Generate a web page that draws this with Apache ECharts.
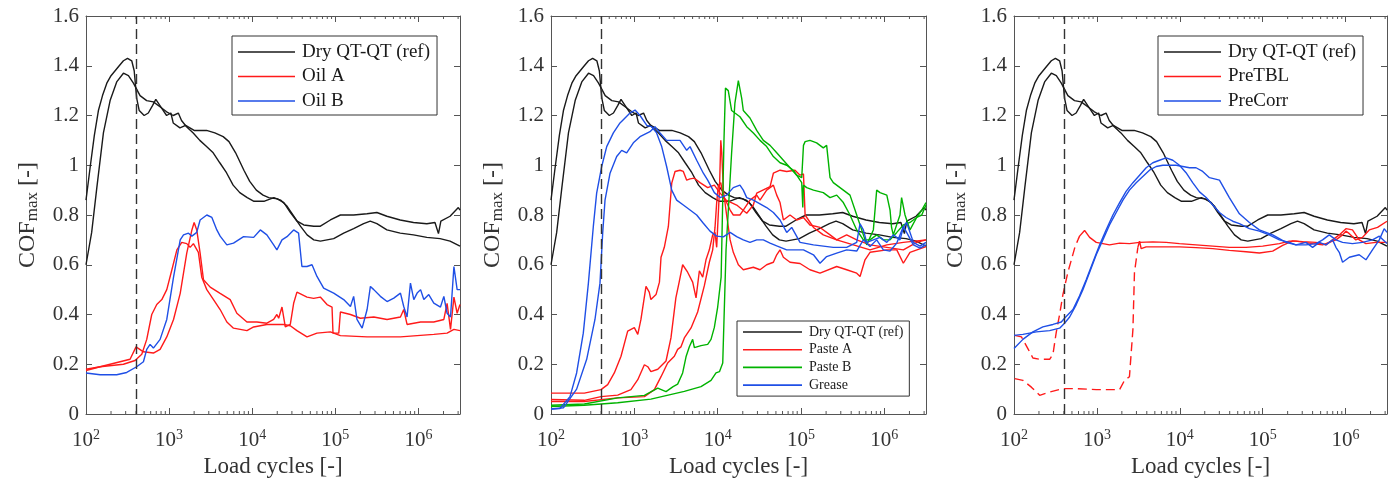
<!DOCTYPE html>
<html><head><meta charset="utf-8">
<script src="https://cdn.jsdelivr.net/npm/echarts@6/dist/echarts.min.js"></script>
<style>html,body{margin:0;padding:0;background:#fff}#c{width:1394px;height:487px}</style>
</head><body><div id="c"></div>
<script>
// ---------------- data (load cycles, COF_max) ----------------
const xTickExponents = [2, 3, 4, 5, 6];
const DASHED_AT = 400;

const dryRef1 = [[1.00e2,0.86],[1.12e2,0.99],[1.26e2,1.12],[1.41e2,1.22],[1.58e2,1.28],[1.78e2,1.33],[2.00e2,1.36],[2.24e2,1.38],[2.51e2,1.40],[2.82e2,1.42],[3.16e2,1.43],[3.55e2,1.42],[3.80e2,1.38],[4.07e2,1.27],[4.37e2,1.22],[5.01e2,1.20],[5.62e2,1.21],[6.31e2,1.24],[6.92e2,1.265],[7.94e2,1.235],[9.33e2,1.20],[1.05e3,1.21],[1.12e3,1.17],[1.35e3,1.15],[1.58e3,1.16],[2.00e3,1.14],[2.82e3,1.14],[3.55e3,1.13],[4.47e3,1.115],[5.25e3,1.095],[6.31e3,1.05],[7.94e3,0.98],[9.33e3,0.935],[1.12e4,0.90],[1.35e4,0.88],[1.58e4,0.87],[2.00e4,0.865],[2.40e4,0.85],[2.88e4,0.81],[3.47e4,0.775],[4.17e4,0.76],[5.50e4,0.755],[6.61e4,0.755],[8.71e4,0.78],[1.15e5,0.80],[1.66e5,0.80],[2.40e5,0.805],[3.16e5,0.81],[4.17e5,0.795],[6.03e5,0.78],[8.71e5,0.77],[1.26e6,0.765],[1.58e6,0.77],[1.74e6,0.725],[1.86e6,0.775],[2.40e6,0.795],[3.02e6,0.83],[3.16e6,0.82]];
const dryRef2 = [[1.00e2,0.60],[1.17e2,0.73],[1.35e2,0.91],[1.62e2,1.13],[1.95e2,1.26],[2.34e2,1.335],[2.82e2,1.37],[3.24e2,1.36],[3.72e2,1.33],[4.47e2,1.28],[5.37e2,1.26],[6.46e2,1.255],[7.76e2,1.235],[9.33e2,1.215],[1.12e3,1.20],[1.29e3,1.21],[1.41e3,1.18],[1.62e3,1.155],[1.95e3,1.13],[2.34e3,1.10],[2.82e3,1.075],[3.39e3,1.05],[4.07e3,1.01],[4.90e3,0.97],[5.89e3,0.92],[7.08e3,0.89],[8.71e3,0.87],[1.05e4,0.855],[1.38e4,0.855],[1.82e4,0.87],[2.19e4,0.86],[2.63e4,0.835],[3.16e4,0.795],[3.80e4,0.755],[4.57e4,0.72],[5.50e4,0.70],[6.61e4,0.695],[7.94e4,0.70],[9.55e4,0.705],[1.26e5,0.727],[1.66e5,0.745],[2.19e5,0.765],[2.63e5,0.775],[3.16e5,0.765],[4.17e5,0.74],[6.03e5,0.727],[8.71e5,0.72],[1.26e6,0.71],[1.82e6,0.705],[2.40e6,0.695],[3.16e6,0.675]];

const oilA1 = [[1.00e2,0.18],[1.48e2,0.19],[2.57e2,0.21],[3.39e2,0.22],[4.00e2,0.27],[4.91e2,0.25],[6.47e2,0.245],[7.79e2,0.26],[9.37e2,0.31],[1.13e3,0.38],[1.36e3,0.485],[1.63e3,0.647],[1.88e3,0.74],[2.00e3,0.77],[2.15e3,0.74],[2.36e3,0.647],[2.59e3,0.54],[3.12e3,0.51],[4.11e3,0.485],[5.43e3,0.46],[6.53e3,0.405],[8.63e3,0.37],[1.14e4,0.37],[1.50e4,0.365],[1.81e4,0.38],[1.98e4,0.40],[2.08e4,0.385],[2.28e4,0.43],[2.50e4,0.35],[2.87e4,0.36],[3.15e4,0.445],[3.45e4,0.49],[4.56e4,0.47],[5.48e4,0.465],[6.59e4,0.47],[7.94e4,0.44],[9.12e4,0.43],[9.37e4,0.325],[1.10e5,0.325],[1.15e5,0.41],[1.52e5,0.40],[2.00e5,0.385],[2.90e5,0.39],[4.19e5,0.38],[6.07e5,0.39],[6.65e5,0.42],[7.29e5,0.36],[1.06e6,0.37],[1.53e6,0.37],[2.02e6,0.38],[2.21e6,0.445],[2.43e6,0.34],[2.67e6,0.47],[2.92e6,0.405],[3.16e6,0.44]];
const oilA2 = [[1.00e2,0.175],[1.48e2,0.19],[2.82e2,0.20],[3.89e2,0.215],[4.69e2,0.24],[5.38e2,0.30],[6.18e2,0.40],[7.10e2,0.44],[8.17e2,0.46],[9.37e2,0.50],[1.08e3,0.58],[1.24e3,0.66],[1.42e3,0.69],[1.63e3,0.685],[1.79e3,0.67],[1.96e3,0.685],[2.25e3,0.65],[2.47e3,0.55],[2.84e3,0.50],[3.42e3,0.46],[4.11e3,0.42],[4.95e3,0.37],[5.95e3,0.345],[8.63e3,0.335],[1.04e4,0.35],[1.50e4,0.36],[2.39e4,0.36],[2.87e4,0.355],[3.45e4,0.335],[4.56e4,0.31],[6.01e4,0.325],[8.71e4,0.33],[1.15e5,0.315],[2.41e5,0.31],[6.07e5,0.31],[1.53e6,0.32],[2.21e6,0.325],[2.67e6,0.34],[3.16e6,0.335]];
const oilB1 = [[1.00e2,0.165],[1.48e2,0.158],[2.34e2,0.158],[3.09e2,0.167],[4.07e2,0.19],[4.91e2,0.21],[5.38e2,0.26],[5.90e2,0.28],[6.47e2,0.265],[7.79e2,0.30],[9.37e2,0.38],[1.13e3,0.55],[1.36e3,0.70],[1.49e3,0.72],[1.71e3,0.727],[1.88e3,0.715],[2.15e3,0.73],[2.36e3,0.78],[2.84e3,0.80],[3.27e3,0.79],[3.75e3,0.74],[4.11e3,0.715],[4.95e3,0.68],[5.95e3,0.687],[7.87e3,0.713],[1.04e4,0.71],[1.25e4,0.74],[1.50e4,0.72],[1.81e4,0.68],[1.98e4,0.66],[2.28e4,0.70],[2.62e4,0.713],[3.15e4,0.74],[3.61e4,0.727],[3.96e4,0.593],[4.56e4,0.593],[5.24e4,0.60],[6.01e4,0.553],[7.23e4,0.506],[9.55e4,0.486],[1.26e5,0.46],[1.52e5,0.432],[1.66e5,0.473],[1.82e5,0.38],[2.10e5,0.345],[2.41e5,0.42],[2.64e5,0.513],[2.90e5,0.50],[3.48e5,0.473],[4.19e5,0.452],[5.05e5,0.466],[6.07e5,0.486],[6.65e5,0.432],[7.29e5,0.39],[8.01e5,0.526],[8.79e5,0.46],[9.64e5,0.486],[1.06e6,0.50],[1.16e6,0.46],[1.33e6,0.48],[1.53e6,0.446],[1.84e6,0.43],[2.02e6,0.473],[2.21e6,0.405],[2.43e6,0.39],[2.67e6,0.593],[2.92e6,0.50],[3.16e6,0.50]];

const pasteA1 = [[1.00e2,0.084],[2.51e2,0.084],[3.98e2,0.098],[4.79e2,0.118],[5.75e2,0.165],[6.92e2,0.232],[8.32e2,0.333],[1.00e3,0.347],[1.10e3,0.32],[1.20e3,0.38],[1.38e3,0.513],[1.51e3,0.49],[1.58e3,0.46],[1.82e3,0.48],[2.00e3,0.53],[2.09e3,0.63],[2.29e3,0.67],[2.56e3,0.754],[2.81e3,0.928],[3.08e3,0.975],[3.53e3,0.98],[3.87e3,0.975],[4.25e3,0.94],[4.66e3,0.945],[5.25e3,0.948],[6.14e3,0.93],[7.59e3,0.91],[9.12e3,0.92],[1.07e4,0.888],[1.26e4,0.86],[1.69e4,0.84],[2.23e4,0.807],[2.68e4,0.84],[2.94e4,0.888],[4.25e4,0.914],[4.66e4,0.968],[5.60e4,0.98],[6.73e4,0.975],[8.47e4,0.98],[9.73e4,0.96],[1.07e5,0.965],[1.12e5,0.80],[1.41e5,0.75],[1.85e5,0.72],[2.68e5,0.70],[4.25e5,0.68],[6.73e5,0.66],[1.07e6,0.68],[1.69e6,0.69],[3.16e6,0.70]];
const pasteA2 = [[1.00e2,0.058],[2.51e2,0.055],[3.98e2,0.07],[6.31e2,0.076],[9.10e2,0.098],[1.10e3,0.138],[1.32e3,0.198],[1.45e3,0.19],[1.58e3,0.17],[1.91e3,0.18],[2.40e3,0.213],[2.75e3,0.306],[3.15e3,0.467],[3.45e3,0.53],[3.80e3,0.60],[4.36e3,0.57],[5.01e3,0.53],[5.50e3,0.467],[6.03e3,0.576],[6.61e3,0.55],[7.24e3,0.62],[7.94e3,0.66],[8.71e3,0.72],[9.29e3,0.73],[9.73e3,0.67],[1.05e4,0.90],[1.09e4,1.10],[1.12e4,1.05],[1.17e4,0.90],[1.28e4,0.80],[1.41e4,0.70],[1.54e4,0.65],[1.77e4,0.60],[2.03e4,0.58],[2.68e4,0.59],[3.22e4,0.58],[3.87e4,0.60],[4.66e4,0.61],[5.11e4,0.64],[5.60e4,0.66],[6.14e4,0.63],[7.38e4,0.61],[9.73e4,0.605],[1.28e5,0.58],[1.69e5,0.566],[2.68e5,0.593],[3.53e5,0.58],[4.66e5,0.566],[5.11e5,0.553],[5.86e5,0.62],[6.73e5,0.65],[1.07e6,0.66],[1.41e6,0.66],[1.69e6,0.606],[2.03e6,0.65],[3.16e6,0.673]];
const pasteA3 = [[1.00e2,0.05],[2.51e2,0.05],[6.31e2,0.065],[1.32e3,0.07],[1.74e3,0.098],[2.09e3,0.15],[2.51e3,0.205],[3.02e3,0.232],[3.31e3,0.26],[3.63e3,0.27],[3.98e3,0.306],[4.79e3,0.346],[5.75e3,0.41],[6.92e3,0.516],[7.94e3,0.61],[8.71e3,0.66],[9.29e3,0.75],[9.73e3,0.85],[1.02e4,0.92],[1.09e4,0.93],[1.17e4,0.87],[1.28e4,0.85],[1.41e4,0.82],[1.54e4,0.80],[1.85e4,0.80],[2.03e4,0.82],[2.44e4,0.86],[2.94e4,0.88],[3.22e4,0.86],[3.87e4,0.90],[4.66e4,0.92],[5.11e4,0.88],[5.60e4,0.85],[6.14e4,0.78],[7.38e4,0.80],[8.87e4,0.78],[1.07e5,0.79],[1.28e5,0.76],[1.69e5,0.75],[2.23e5,0.72],[2.68e5,0.70],[3.53e5,0.72],[4.66e5,0.70],[6.73e5,0.68],[1.07e6,0.67],[1.69e6,0.66],[2.44e6,0.69],[3.16e6,0.70]];
const pasteB1 = [[1.00e2,0.035],[2.51e2,0.04],[6.31e2,0.065],[1.32e3,0.075],[1.91e3,0.104],[2.40e3,0.09],[2.92e3,0.11],[3.31e3,0.12],[3.80e3,0.165],[4.17e3,0.23],[4.57e3,0.27],[5.01e3,0.30],[5.25e3,0.267],[6.31e3,0.275],[7.59e3,0.28],[8.32e3,0.30],[9.12e3,0.348],[1.00e4,0.43],[1.10e4,0.55],[1.14e4,0.80],[1.19e4,1.10],[1.24e4,1.31],[1.34e4,1.30],[1.47e4,1.22],[1.61e4,1.21],[1.85e4,1.195],[2.23e4,1.155],[2.68e4,1.13],[3.22e4,1.10],[3.87e4,1.075],[4.66e4,1.035],[5.60e4,1.01],[6.73e4,1.00],[8.09e4,0.98],[9.73e4,0.94],[1.02e5,0.93],[1.05e5,0.83],[1.07e5,0.92],[1.17e5,0.91],[1.41e5,0.90],[1.85e5,0.89],[2.23e5,0.87],[2.68e5,0.88],[3.22e5,0.85],[3.87e5,0.80],[4.66e5,0.74],[5.60e5,0.70],[6.73e5,0.70],[8.09e5,0.72],[9.73e5,0.70],[1.17e6,0.70],[1.41e6,0.73],[1.69e6,0.76],[2.03e6,0.77],[2.44e6,0.79],[2.81e6,0.82],[3.16e6,0.85]];
const pasteB2 = [[1.00e2,0.03],[2.51e2,0.035],[6.31e2,0.045],[1.58e3,0.06],[3.98e3,0.091],[6.31e3,0.11],[8.32e3,0.135],[9.55e3,0.165],[1.05e4,0.17],[1.15e4,0.205],[1.26e4,0.66],[1.47e4,1.05],[1.61e4,1.25],[1.77e4,1.34],[1.94e4,1.27],[2.03e4,1.22],[2.44e4,1.19],[2.94e4,1.14],[3.53e4,1.10],[4.25e4,1.08],[5.11e4,1.05],[6.14e4,1.02],[7.38e4,0.99],[8.87e4,0.96],[1.02e5,0.95],[1.07e5,1.08],[1.12e5,1.095],[1.28e5,1.10],[1.54e5,1.09],[1.85e5,1.07],[2.03e5,1.08],[2.23e5,0.95],[2.44e5,0.93],[3.22e5,0.90],[3.87e5,0.88],[4.66e5,0.80],[5.60e5,0.72],[6.14e5,0.68],[7.38e5,0.74],[8.09e5,0.90],[8.87e5,0.89],[1.07e6,0.88],[1.17e6,0.82],[1.22e6,0.75],[1.28e6,0.72],[1.54e6,0.80],[1.61e6,0.87],[1.77e6,0.80],[2.03e6,0.74],[2.44e6,0.79],[2.81e6,0.80],[3.16e6,0.84]];
const grease1 = [[1.00e2,0.02],[1.28e2,0.022],[1.69e2,0.07],[2.03e2,0.165],[2.44e2,0.325],[2.81e2,0.526],[3.22e2,0.754],[3.53e2,0.888],[4.06e2,0.995],[4.66e2,1.075],[5.60e2,1.13],[6.73e2,1.17],[7.73e2,1.19],[8.87e2,1.21],[1.02e3,1.222],[1.17e3,1.20],[1.41e3,1.16],[1.61e3,1.155],[1.85e3,1.13],[2.13e3,1.075],[2.44e3,0.995],[2.81e3,0.90],[3.22e3,0.86],[3.87e3,0.84],[4.66e3,0.82],[5.60e3,0.80],[6.73e3,0.767],[8.09e3,0.735],[9.73e3,0.715],[1.17e4,0.712],[1.41e4,0.73],[1.69e4,0.713],[2.03e4,0.70],[2.44e4,0.69],[2.94e4,0.70],[3.53e4,0.70],[4.25e4,0.687],[5.11e4,0.676],[6.73e4,0.66],[8.87e4,0.66],[1.07e5,0.66],[1.41e5,0.64],[1.69e5,0.606],[2.03e5,0.633],[2.68e5,0.647],[3.53e5,0.66],[4.66e5,0.655],[5.60e5,0.70],[6.73e5,0.673],[8.09e5,0.70],[9.73e5,0.66],[1.17e6,0.655],[1.41e6,0.687],[1.69e6,0.754],[1.85e6,0.73],[2.23e6,0.68],[2.68e6,0.667],[3.16e6,0.68]];
const grease2 = [[1.00e2,0.02],[1.41e2,0.025],[2.03e2,0.10],[2.68e2,0.22],[3.37e2,0.38],[3.87e2,0.526],[4.17e2,0.727],[4.45e2,0.86],[5.11e2,0.968],[6.14e2,1.035],[7.05e2,1.06],[8.09e2,1.05],[9.73e2,1.09],[1.17e3,1.115],[1.54e3,1.135],[1.77e3,1.155],[2.03e3,1.13],[2.44e3,1.10],[2.94e3,1.10],[3.53e3,1.10],[4.25e3,1.06],[4.66e3,1.075],[5.60e3,1.02],[6.73e3,0.968],[7.59e3,0.94],[9.12e3,0.89],[1.07e4,0.87],[1.28e4,0.88],[1.54e4,0.91],[1.85e4,0.92],[2.03e4,0.90],[2.23e4,0.87],[2.68e4,0.86],[3.22e4,0.845],[3.87e4,0.83],[4.66e4,0.81],[5.60e4,0.78],[6.73e4,0.73],[7.73e4,0.75],[9.73e4,0.69],[1.41e5,0.68],[2.44e5,0.67],[3.53e5,0.67],[4.66e5,0.69],[5.11e5,0.765],[5.60e5,0.74],[6.14e5,0.69],[7.38e5,0.70],[8.87e5,0.71],[1.07e6,0.69],[1.28e6,0.72],[1.54e6,0.70],[1.69e6,0.75],[1.85e6,0.77],[2.23e6,0.69],[2.68e6,0.675],[3.16e6,0.69]];

const preTBL1 = [[5.90e2,0.70],[6.18e2,0.715],[7.10e2,0.738],[8.17e2,0.71],[9.82e2,0.69],[1.18e3,0.685],[1.42e3,0.68],[1.88e3,0.687],[2.47e3,0.685],[3.27e3,0.69],[4.73e3,0.692],[6.84e3,0.69],[9.91e3,0.685],[1.57e4,0.68],[2.50e4,0.675],[3.96e4,0.67],[6.30e4,0.67],[1.00e5,0.675],[1.59e5,0.685],[2.10e5,0.695],[2.52e5,0.695],[4.00e5,0.685],[5.28e5,0.68],[6.35e5,0.69],[7.65e5,0.70],[9.20e5,0.72],[1.01e6,0.735],[1.11e6,0.725],[1.33e6,0.70],[1.60e6,0.71],[1.93e6,0.74],[2.43e6,0.75],[3.16e6,0.775]];
const preTBL1Start = [[1.02e2,0.316],[1.23e2,0.31],[1.47e2,0.263],[1.69e2,0.225],[2.04e2,0.22],[2.69e2,0.22],[2.95e2,0.24],[3.24e2,0.33],[3.55e2,0.40],[3.89e2,0.48],[4.47e2,0.57],[5.38e2,0.666],[5.90e2,0.70]];
const preTBL2 = [[3.12e3,0.67],[3.27e3,0.695],[3.42e3,0.665],[3.93e3,0.672],[5.69e3,0.672],[9.91e3,0.672],[1.57e4,0.669],[2.50e4,0.665],[3.96e4,0.658],[6.30e4,0.652],[9.12e4,0.647],[1.32e5,0.655],[1.74e5,0.678],[2.30e5,0.696],[3.03e5,0.693],[4.39e5,0.69],[5.79e5,0.68],[6.97e5,0.70],[8.39e5,0.72],[1.01e6,0.745],[1.21e6,0.74],[1.46e6,0.70],[1.76e6,0.685],[2.32e6,0.69],[3.16e6,0.69]];
const preTBL2Start = [[1.02e2,0.142],[1.28e2,0.135],[1.62e2,0.108],[2.04e2,0.075],[2.69e2,0.088],[3.89e2,0.102],[5.64e2,0.102],[9.82e2,0.098],[1.88e3,0.098],[2.15e3,0.135],[2.47e3,0.15],[2.72e3,0.34],[2.84e3,0.57],[2.98e3,0.62],[3.12e3,0.67]];
const preCorr1 = [[1.00e2,0.263],[1.28e2,0.30],[1.69e2,0.33],[2.23e2,0.35],[2.95e2,0.36],[3.72e2,0.37],[4.07e2,0.385],[5.14e2,0.42],[6.18e2,0.475],[7.43e2,0.54],[8.95e2,0.61],[1.08e3,0.68],[1.29e3,0.74],[1.56e3,0.80],[1.88e3,0.85],[2.25e3,0.895],[2.72e3,0.93],[3.27e3,0.96],[3.93e3,0.99],[4.73e3,1.01],[5.69e3,1.02],[6.84e3,1.03],[8.24e3,1.02],[9.91e3,1.0],[1.19e4,0.97],[1.43e4,0.93],[1.73e4,0.893],[2.08e4,0.87],[2.50e4,0.84],[3.01e4,0.81],[3.61e4,0.79],[4.35e4,0.775],[5.24e4,0.765],[6.91e4,0.745],[9.12e4,0.735],[1.20e5,0.72],[1.59e5,0.70],[2.10e5,0.69],[2.52e5,0.68],[3.33e5,0.69],[4.00e5,0.67],[4.82e5,0.69],[5.79e5,0.68],[6.97e5,0.70],[7.65e5,0.67],[8.39e5,0.65],[9.20e5,0.61],[1.11e6,0.63],[1.46e6,0.64],[1.76e6,0.62],[2.11e6,0.66],[2.55e6,0.70],[2.92e6,0.745],[3.16e6,0.73]];
const preCorr2 = [[1.00e2,0.316],[1.28e2,0.32],[1.86e2,0.33],[2.69e2,0.335],[3.55e2,0.345],[4.07e2,0.365],[4.69e2,0.39],[5.64e2,0.44],[6.78e2,0.50],[8.17e2,0.57],[9.82e2,0.64],[1.18e3,0.70],[1.42e3,0.76],[1.71e3,0.81],[2.06e3,0.86],[2.47e3,0.90],[2.98e3,0.93],[3.58e3,0.955],[4.31e3,0.98],[5.19e3,0.995],[6.24e3,1.0],[9.04e3,1.0],[1.31e4,0.99],[1.57e4,0.99],[1.89e4,0.975],[2.28e4,0.95],[3.01e4,0.94],[3.96e4,0.87],[5.24e4,0.805],[6.91e4,0.77],[9.12e4,0.74],[1.32e5,0.72],[1.91e5,0.69],[2.52e5,0.68],[3.33e5,0.68],[4.39e5,0.685],[5.28e5,0.70],[6.35e5,0.72],[7.65e5,0.70],[9.20e5,0.69],[1.21e6,0.685],[1.60e6,0.69],[2.11e6,0.70],[2.55e6,0.715],[3.16e6,0.685]];

// ---------------- styling ----------------
const SERIF = "'Liberation Serif','Times New Roman',serif";
const AXIS_COLOR = '#555';
const TEXT_COLOR = '#333';
const X_MIN = 100, X_MAX = 3.16e6, Y_MIN = 0, Y_MAX = 1.6, Y_STEP = 0.2;
const C_BLACK = '#1a1a1a', C_RED = '#ff1a1a', C_GREEN = '#00b300', C_BLUE = '#1f4fe6';
const LW = 1.4;
const grids = [
  {left: 86, top: 16, width: 374, height: 398},
  {left: 551, top: 16, width: 375, height: 398},
  {left: 1014, top: 16, width: 373, height: 398}
];

// minor tick positions of a log axis (2..9 x 10^n)
const minorTickValues = [];
xTickExponents.forEach(e => { for (let m = 2; m <= 9; m++) { const v = m * Math.pow(10, e); if (v < X_MAX) minorTickValues.push(v); } });

function xLabel(v) {
  const e = Math.round(Math.log10(v));
  if (xTickExponents.indexOf(e) < 0 || Math.abs(v / Math.pow(10, e) - 1) > 1e-6) return '';
  return '{b|10}{s|' + e + '}';
}

const xAxes = [], yAxes = [];
grids.forEach((g, p) => {
  const baseX = {
    type: 'log', logBase: 10, gridIndex: p, min: X_MIN, max: X_MAX,
    axisLine: {show: true, onZero: false, lineStyle: {color: AXIS_COLOR, width: 1}},
    axisTick: {show: true, inside: true, length: 6, lineStyle: {color: AXIS_COLOR}},
    splitLine: {show: false}, minorTick: {show: false}, minorSplitLine: {show: false}
  };
  xAxes.push(Object.assign({}, baseX, {
    position: 'bottom',
    axisLabel: {show: true, interval: 0, margin: 14, formatter: xLabel,
      rich: {b: {fontFamily: SERIF, fontSize: 21, color: TEXT_COLOR, lineHeight: 24},
             s: {fontFamily: SERIF, fontSize: 14, color: TEXT_COLOR, lineHeight: 14, verticalAlign: 'top'}}},
    name: 'Load cycles [-]', nameLocation: 'middle', nameGap: 41, nameMoveOverlap: false,
    nameTextStyle: {fontFamily: SERIF, fontSize: 23, color: TEXT_COLOR}
  }));
  xAxes.push(Object.assign({}, baseX, {position: 'top', axisLabel: {show: false}}));
  const baseY = {
    type: 'value', gridIndex: p, min: Y_MIN, max: Y_MAX, interval: Y_STEP,
    axisLine: {show: true, onZero: false, lineStyle: {color: AXIS_COLOR, width: 1}},
    axisTick: {show: true, inside: true, length: 6, lineStyle: {color: AXIS_COLOR}},
    splitLine: {show: false}
  };
  yAxes.push(Object.assign({}, baseY, {
    position: 'left',
    axisLabel: {show: true, margin: 7, fontFamily: SERIF, fontSize: 21, color: TEXT_COLOR,
      formatter: v => String(Math.round(v * 10) / 10)},
    name: '{a|COF}{b|max}{a| [-]}', nameLocation: 'middle', nameRotate: 90, nameGap: 45, nameMoveOverlap: false,
    nameTextStyle: {fontFamily: SERIF, color: TEXT_COLOR,
      rich: {a: {fontFamily: SERIF, fontSize: 24, color: TEXT_COLOR, lineHeight: 26},
             b: {fontFamily: SERIF, fontSize: 17, color: TEXT_COLOR, lineHeight: 13, verticalAlign: 'bottom'}}}
  }));
  yAxes.push(Object.assign({}, baseY, {position: 'right', axisLabel: {show: false}}));
});

function line(name, data, color, p, dashed) {
  return {
    type: 'line', name: name, data: data, xAxisIndex: 2 * p, yAxisIndex: 2 * p,
    symbol: 'none', showSymbol: false, animation: false, silent: true,
    lineStyle: {color: color, width: LW, type: dashed ? [9, 5] : 'solid'},
    itemStyle: {color: color}, emphasis: {disabled: true}
  };
}
function dryWithMarker(p) {
  const s = line('Dry QT-QT (ref)', dryRef1, C_BLACK, p);
  s.markLine = {silent: true, symbol: ['none', 'none'], label: {show: false}, animation: false,
    lineStyle: {color: '#333', type: [10, 5], width: 1.4}, data: [{xAxis: DASHED_AT}]};
  return s;
}
function minorTicks(p) {
  return {
    type: 'custom', xAxisIndex: 2 * p, yAxisIndex: 2 * p, silent: true, animation: false, z: 3,
    data: minorTickValues.map(v => [v, Y_MIN]), encode: {x: 0, y: 1},
    renderItem: (params, api) => {
      const v = api.value(0);
      const b = api.coord([v, Y_MIN]), t = api.coord([v, Y_MAX]);
      const st = {stroke: AXIS_COLOR, lineWidth: 1};
      return {type: 'group', children: [
        {type: 'line', shape: {x1: b[0], y1: b[1], x2: b[0], y2: b[1] - 3}, style: st},
        {type: 'line', shape: {x1: t[0], y1: t[1], x2: t[0], y2: t[1] + 3}, style: st}
      ]};
    }
  };
}

const series = [
  // panel 1
  dryWithMarker(0), line('Dry QT-QT (ref)', dryRef2, C_BLACK, 0),
  line('Oil A', oilA1, C_RED, 0), line('Oil A', oilA2, C_RED, 0),
  line('Oil B', oilB1, C_BLUE, 0), minorTicks(0),
  // panel 2
  dryWithMarker(1), line('Dry QT-QT (ref)', dryRef2, C_BLACK, 1),
  line('Paste A', pasteA1, C_RED, 1), line('Paste A', pasteA2, C_RED, 1), line('Paste A', pasteA3, C_RED, 1),
  line('Paste B', pasteB1, C_GREEN, 1), line('Paste B', pasteB2, C_GREEN, 1),
  line('Grease', grease1, C_BLUE, 1), line('Grease', grease2, C_BLUE, 1), minorTicks(1),
  // panel 3
  dryWithMarker(2), line('Dry QT-QT (ref)', dryRef2, C_BLACK, 2),
  line('PreTBL', preTBL1, C_RED, 2), line('PreTBL', preTBL2, C_RED, 2),
  line('PreTBL', preTBL1Start, C_RED, 2, true), line('PreTBL', preTBL2Start, C_RED, 2, true),
  line('PreCorr', preCorr1, C_BLUE, 2), line('PreCorr', preCorr2, C_BLUE, 2), minorTicks(2)
];

function legendBox(names, left, top, fs, lh, iw, gap, pad) {
  return {
    data: names, orient: 'vertical', left: left, top: top, icon: 'rect', itemWidth: iw, itemHeight: 1.6,
    itemGap: gap, padding: pad, borderColor: '#333', borderWidth: 1, backgroundColor: '#fff',
    selectedMode: false, z: 10,
    textStyle: {fontFamily: SERIF, fontSize: fs, lineHeight: lh, color: '#1a1a1a', padding: [0, 0, 0, 2]}
  };
}

const option = {
  backgroundColor: '#fff',
  animation: false,
  grid: grids.map(g => Object.assign({outerBoundsMode: 'none', containLabel: false}, g)),
  xAxis: xAxes,
  yAxis: yAxes,
  legend: [
    legendBox(['Dry QT-QT (ref)', 'Oil A', 'Oil B'], 232, 36, 19, 20, 57, 4.5, [6, 7, 4, 6]),
    legendBox(['Dry QT-QT (ref)', 'Paste A', 'Paste B', 'Grease'], 737, 321, 14, 14, 59, 3.7, [4, 6, 4, 6]),
    legendBox(['Dry QT-QT (ref)', 'PreTBL', 'PreCorr'], 1158, 36, 19, 20, 57, 4.5, [6, 7, 4, 6])
  ],
  series: series
};
const chart = echarts.init(document.getElementById('c'), null, {renderer: 'canvas'});
chart.setOption(option);
</script></body></html>
